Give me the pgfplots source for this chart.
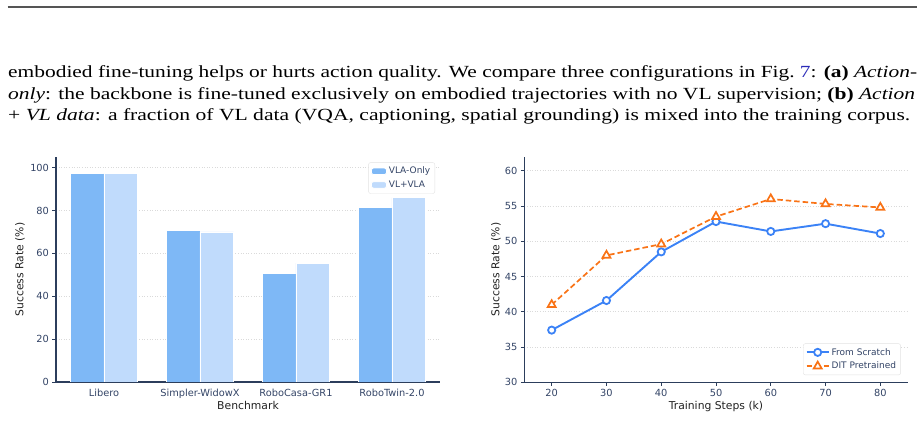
\documentclass[border=0pt]{standalone}
\usepackage{pgfplots}
\pgfplotsset{compat=1.18}
\usepackage{graphicx}
\usepackage{fontspec}
\setmainfont{Liberation Serif}
\newfontfamily\chartfont{DejaVu Sans}

\definecolor{vlaonly}{HTML}{7EB8F6}
\definecolor{vlvla}{HTML}{C0DBFC}
\definecolor{scratch}{HTML}{3B82F6}
\definecolor{dit}{HTML}{F97316}
\definecolor{spine}{HTML}{2C3E5C}
\definecolor{ticktext}{HTML}{334466}
\definecolor{labeltext}{HTML}{222222}
\definecolor{gridgray}{HTML}{DADADA}
\definecolor{legendframe}{HTML}{E2E2E2}
\definecolor{linkblue}{HTML}{2A2AB8}
\definecolor{rulegray}{HTML}{555555}

\pgfplotsset{
  paneltheme/.style={
    scale only axis,
    axis x line*=bottom, axis y line*=left,
    axis line style={spine, line width=1.1pt, -},
    tick style={spine, line width=0.8pt},
    major tick length=3.5pt,
    tick align=outside,
    ymajorgrids,
    grid style={gridgray, line width=0.7pt, dash pattern=on 1pt off 1.6pt},
    /pgf/number format/assume math mode=true,
    tick label style={font=\chartfont\fontsize{9.8}{11}\selectfont, text=ticktext},
    label style={font=\chartfont\fontsize{10.8}{12}\selectfont, text=labeltext},
    legend style={font=\chartfont\fontsize{9}{10.5}\selectfont, text=ticktext,
      draw=legendframe, rounded corners=2pt, fill=white, row sep=1.5pt, inner sep=2.5pt},
    legend cell align=left,
  },
}

\begin{document}
\begin{tikzpicture}
\useasboundingbox (0,0) rectangle (924pt,435pt);

% header rule and running text
\draw[rulegray, line width=2pt] (7.5pt,427.7pt) -- (917pt,427.7pt);
\node[anchor=base west, inner sep=0pt] at (8pt,357.7pt) {\resizebox{909pt}{\height}{\fontsize{17}{20}\selectfont embodied fine-tuning helps or hurts action quality. We compare three configurations in Fig.~\textcolor{linkblue}{7}: \textbf{(a)} \textit{Action-}}};
\node[anchor=base west, inner sep=0pt] at (8pt,335.7pt) {\resizebox{907pt}{\height}{\fontsize{17}{20}\selectfont \textit{only}: the backbone is fine-tuned exclusively on embodied trajectories with no VL supervision; \textbf{(b)} \textit{Action}}};
\node[anchor=base west, inner sep=0pt] at (8pt,314pt) {\resizebox{902pt}{\height}{\fontsize{17}{20}\selectfont + \textit{VL data}: a fraction of VL data (VQA, captioning, spatial grounding) is mixed into the training corpus.}};

% (a) benchmark comparison
\begin{axis}[paneltheme,
  at={(56pt,53pt)}, anchor=south west, width=384pt, height=225pt,
  xmin=-0.5, xmax=3.5, ymin=0, ymax=105,
  xtick={0,1,2,3},
  xticklabels={Libero,Simpler-WidowX,RoboCasa-GR1,RoboTwin-2.0},
  ytick={0,20,40,60,80,100},
  x tick style={draw=none},
  ybar, bar width=0.35,
  xlabel={Benchmark}, ylabel={Success Rate (\%)},
  ylabel style={at={(axis description cs:-0.094,0.5)}, anchor=center},
  xlabel style={at={(axis description cs:0.5,-0.105)}, anchor=center},
  legend style={at={(axis description cs:0.987,0.976)}, anchor=north east},
  legend image code/.code={\fill[#1] (0pt,-3.2pt) rectangle (15pt,3.2pt);},
]
\addplot[fill=vlaonly, draw=white, line width=0.8pt, bar shift=-0.175]
  coordinates {(0,97.5) (1,70.6) (2,50.6) (3,81.4)};
\addplot[fill=vlvla, draw=white, line width=0.8pt, bar shift=0.175]
  coordinates {(0,97.4) (1,70.0) (2,55.5) (3,86.0)};
\legend{VLA-Only, VL+VLA}
\node[font=\chartfont\bfseries\fontsize{11}{13}\selectfont, text=spine]
  at (axis description cs:0.5,-0.181) {(a)};
\end{axis}

% (b) training curves
\begin{axis}[paneltheme,
  at={(524.3pt,52.7pt)}, anchor=south west, width=383.4pt, height=225.6pt,
  xmin=15, xmax=85, ymin=30, ymax=62,
  xtick={20,30,40,50,60,70,80},
  ytick={30,35,40,45,50,55,60},
  xlabel={Training Steps (k)}, ylabel={Success Rate (\%)},
  ylabel style={at={(axis description cs:-0.074,0.5)}, anchor=center},
  xlabel style={at={(axis description cs:0.5,-0.108)}, anchor=center},
  legend style={at={(axis description cs:0.982,0.032)}, anchor=south east},
  legend image code/.code={\draw[mark repeat=2, mark phase=2, #1]
    plot coordinates {(0pt,0pt) (11pt,0pt) (22pt,0pt)};},
]
\addplot[scratch, line width=1.9pt, mark=*, mark size=3.6pt,
  mark options={solid, fill=white, draw=scratch, line width=1.8pt}]
  coordinates {(20,37.4) (30,41.6) (40,48.5) (50,52.8) (60,51.4) (70,52.5) (80,51.1)};
\addplot[dit, line width=1.7pt, dash pattern=on 5.5pt off 3pt, mark=triangle*, mark size=4.6pt,
  mark options={solid, fill=white, draw=dit, line width=1.7pt}]
  coordinates {(20,41.0) (30,48.0) (40,49.6) (50,53.5) (60,56.0) (70,55.3) (80,54.8)};
\legend{From Scratch, DIT Pretrained}
\node[font=\chartfont\bfseries\fontsize{11}{13}\selectfont, text=spine]
  at (axis description cs:0.5,-0.179) {(b)};
\end{axis}
\end{tikzpicture}
\end{document}
